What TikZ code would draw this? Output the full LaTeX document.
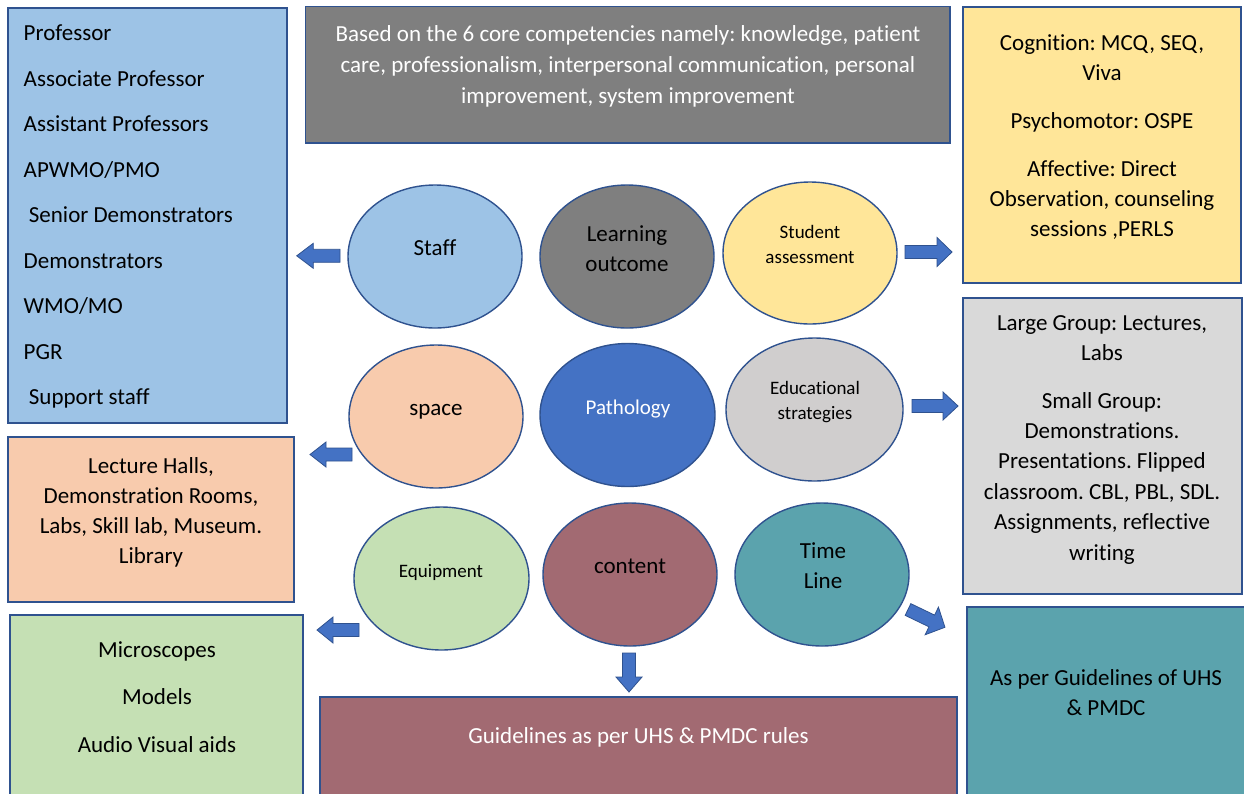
\documentclass[tikz,border=0pt]{standalone}
\usepackage{fontspec}
\setmainfont{Carlito}[Ligatures=NoCommon]
\usetikzlibrary{shapes.geometric}
\definecolor{bord}{HTML}{2F528F}
\definecolor{cstaff}{HTML}{9DC3E6}
\definecolor{cgray}{HTML}{7F7F7F}
\definecolor{cyel}{HTML}{FFE699}
\definecolor{clgray}{HTML}{D9D9D9}
\definecolor{cedu}{HTML}{D0CECE}
\definecolor{cpeach}{HTML}{F8CBAD}
\definecolor{cgreen}{HTML}{C5E0B4}
\definecolor{cpath}{HTML}{4472C4}
\definecolor{ccont}{HTML}{A26A72}
\definecolor{cteal}{HTML}{5BA3AD}
\newcommand\fl{\rule{0pt}{20pt}}
\newcommand\barrow[6]{%
  \begin{scope}[shift={(#1,#2)}, rotate=#3]
    \draw[arrowstyle] (0,-6.5) -- ({#4-#6},-6.5) -- ({#4-#6},-#5) -- (#4,0) -- ({#4-#6},#5) -- ({#4-#6},6.5) -- (0,6.5) -- cycle;
  \end{scope}}
\tikzset{
  box/.style={draw=bord, line width=1.5pt, inner sep=0pt, outer sep=0pt, anchor=north west},
  circ/.style={ellipse, draw=bord, line width=1.4pt, minimum width=174pt, minimum height=143pt, inner sep=0pt},
  txt/.style={inner sep=0pt, anchor=north, align=center, font=\frenchspacing\fontsize{23}{30.5}\selectfont},
  arrowstyle/.style={fill=cpath, draw=bord, line width=0.8pt, line join=miter},
}
\begin{document}
\frenchspacing
\begin{tikzpicture}[x=1pt, y=-1pt]
\useasboundingbox (0,0) rectangle (1244,793);
\clip (0,0) rectangle (1244,793);
\fill[white] (0,0) rectangle (1244,793);

% boxes
\node[box, fill=cstaff, minimum width=279pt, minimum height=415pt] (staffbox) at (8,8) {};
\node[box, fill=cgray, minimum width=644.5pt, minimum height=136.5pt] (lobox) at (305.5,6.5) {};
\node[box, fill=cyel, minimum width=278pt, minimum height=276pt] (assessbox) at (963,7) {};
\node[box, fill=clgray, minimum width=279pt, minimum height=296pt] (stratbox) at (963,298) {};
\node[box, fill=cpeach, minimum width=286pt, minimum height=165pt] (spacebox) at (8,437) {};
\node[box, fill=cgreen, minimum width=293pt, minimum height=200pt] (equipbox) at (10,615) {};
\node[box, fill=ccont, minimum width=637pt, minimum height=120pt] (contentbox) at (320,697) {};
\node[box, fill=cteal, minimum width=300pt, minimum height=210pt] (timebox) at (967,607) {};

% box texts
\node[txt, anchor=north west, align=left, font=\frenchspacing\fontsize{23}{45.5}\selectfont] (stafftxt) at (23.5,20.5)
 {\fl Professor\\ Associate Professor\\ Assistant Professors\\ APWMO/PMO\\ \hspace*{5.2pt}Senior Demonstrators\\ Demonstrators\\ WMO/MO\\ PGR\\ \hspace*{5.2pt}Support staff};
\node[txt, text=white, font=\frenchspacing\fontsize{23}{31}\selectfont] (lotxt) at (628,21)
 {\fl Based on the 6 core competencies namely: knowledge, patient\\ care, professionalism, interpersonal communication, personal\\ improvement, system improvement};
\node[txt, font=\frenchspacing\fontsize{23}{29.9}\selectfont] (assesstxt) at (1102,30.5)
 {\fl Cognition: MCQ, SEQ,\\ Viva\\[18pt] Psychomotor: OSPE\\[18pt] Affective: Direct\\ Observation, counseling\\ sessions ,PERLS};
\node[txt, font=\frenchspacing\fontsize{23}{30.4}\selectfont] (strattxt) at (1102,310)
 {\fl Large Group: Lectures,\\ Labs\\[17pt] Small Group:\\ Demonstrations.\\ Presentations. Flipped\\ classroom. CBL, PBL, SDL.\\ Assignments, reflective\\ writing};
\node[txt, font=\frenchspacing\fontsize{23}{30.2}\selectfont] (spacetxt) at (151,453)
 {\fl Lecture Halls,\\ Demonstration Rooms,\\ Labs, Skill lab, Museum.\\ Library};
\node[txt, font=\frenchspacing\fontsize{23}{47.5}\selectfont] (equiptxt) at (157,637)
 {\fl Microscopes\\ Models\\ Audio Visual aids};
\node[txt, text=white] (contenttxt) at (638.5,723)
 {\fl Guidelines as per UHS \& PMDC rules};
\node[txt, font=\frenchspacing\fontsize{23}{30}\selectfont] (timetxt) at (1106,665)
 {\fl As per Guidelines of UHS\\ \& PMDC};

% ellipses
\node[circ, fill=cstaff] (staff) at (435,256.5) {};
\node[circ, fill=cgray] (lo) at (627,256.5) {};
\node[circ, fill=cyel, minimum height=142pt] (assess) at (810,253) {};
\node[circ, fill=cpeach] (space) at (436,416.5) {};
\node[circ, fill=cpath, minimum width=175pt] (path) at (627.5,415) {};
\node[circ, fill=cedu, minimum width=177pt] (strat) at (814.5,409.5) {};
\node[circ, fill=cgreen, minimum width=175pt] (equip) at (441.5,578.5) {};
\node[circ, fill=ccont] (content) at (630,574.5) {};
\node[circ, fill=cteal] (time) at (822,574.5) {};

% ellipse texts
\node[txt] (stafflbl) at (435,235) {\fl Staff};
\node[txt] (lolbl) at (627,221) {\fl Learning\\ outcome};
\node[txt, font=\fontsize{19}{25}\selectfont] (assesslbl) at (810,218) {\fl Student\\ assessment};
\node[txt] (spacelbl) at (436,395) {\fl space};
\node[txt, text=white, font=\fontsize{21}{26}\selectfont] (pathlbl) at (628,394) {\fl Pathology};
\node[txt, font=\fontsize{19}{25}\selectfont] (stratlbl) at (815,374) {\fl Educational\\ strategies};
\node[txt, font=\fontsize{19}{25}\selectfont] (equiplbl) at (441,557) {\fl Equipment};
\node[txt] (contentlbl) at (630,553) {\fl content};
\node[txt] (timelbl) at (823,538) {\fl Time\\ Line};

% block arrows
\barrow{340}{255.8}{180}{43.3}{12.5}{16.6}
\barrow{905}{252}{0}{47}{14.5}{15}
\barrow{912}{406}{0}{46}{14}{15}
\barrow{352}{454.5}{180}{42}{12.5}{16}
\barrow{359}{630}{180}{42}{13}{16}
\barrow{629}{653}{-90}{39}{13}{15}
\barrow{908}{609.5}{-25.7}{41}{15.3}{14.6}
\end{tikzpicture}
\end{document}
